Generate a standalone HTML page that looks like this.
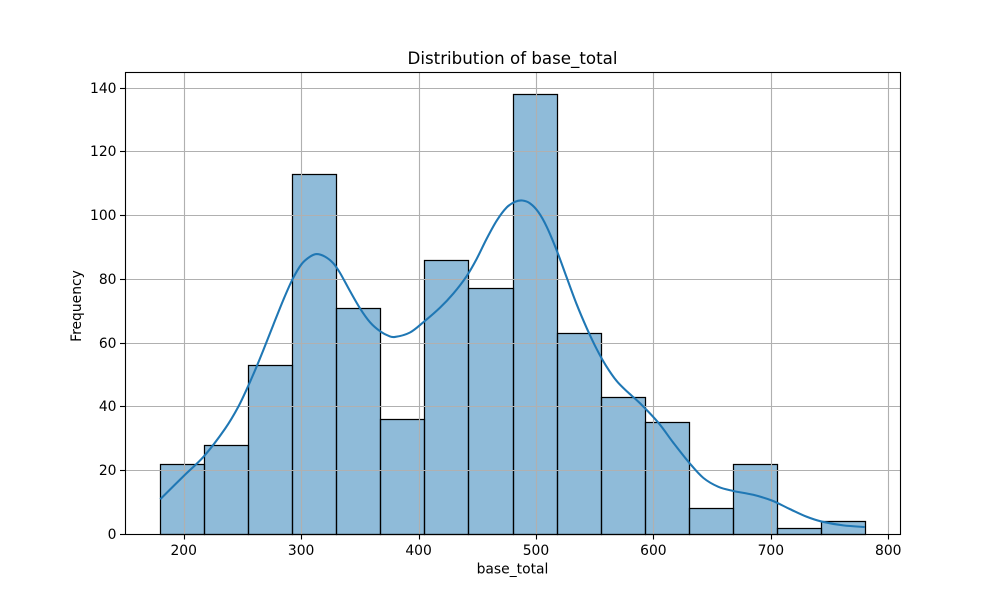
<!DOCTYPE html>
<html>
<head>
<meta charset="utf-8">
<style>
html,body{margin:0;padding:0;background:#fff;}
svg{display:block;}
text{font-family:"DejaVu Sans",sans-serif;fill:#000;}
</style>
</head>
<body>
<svg id="chart" width="1000" height="600" viewBox="0 0 1000 600" xmlns="http://www.w3.org/2000/svg"></svg>
<script>
const binStart = 180;
const binWidth = 37.5;
const counts = [22, 28, 53, 113, 71, 36, 86, 77, 138, 63, 43, 35, 8, 22, 2, 4];
const xTicks = [200, 300, 400, 500, 600, 700, 800];
const yTicks = [0, 20, 40, 60, 80, 100, 120, 140];
const kdeX = [180, 200, 217.5, 235.2, 246.5, 255, 262.2, 267.3, 276.3, 284.8, 292.8, 300.5, 307.6, 313.3, 320.3, 327.4, 333.1, 341.6, 350.1, 358.7, 367.2, 374.2, 379.9, 392.7, 404, 418.3, 429.6, 441, 449.5, 458, 466.6, 475, 482.1, 488.4, 494.9, 502, 509.1, 517.6, 526.2, 534.7, 543.2, 551.7, 559.6, 568.7, 578.4, 588.6, 604.2, 617, 630.6, 642.5, 655.3, 668, 685, 700.8, 716.3, 730.6, 743.3, 761.7, 780];
const kdeY = [10.9, 18.2, 24.5, 33, 39.9, 46.5, 52.6, 57.2, 65.6, 73.4, 80, 84.7, 87, 87.8, 87, 84.9, 81.9, 76.2, 70.8, 66.4, 63.6, 62.2, 61.8, 63.2, 66.4, 71, 75.4, 80.9, 86.3, 92.6, 98.3, 102.4, 104.2, 104.6, 103.7, 101, 96.4, 89, 80.4, 72, 64.6, 58, 52.8, 48, 44.4, 41, 34.9, 28.6, 22.3, 17.6, 14.8, 13.5, 12.3, 10.5, 7.8, 5.4, 3.9, 2.7, 2.2];
const titleText = 'Distribution of base_total';
const xLabelText = 'base_total';
const yLabelText = 'Frequency';

const svg = document.getElementById('chart');
const NS = 'http://www.w3.org/2000/svg';
const plotLeft = 125, plotRight = 900, plotTop = 72, plotBottom = 534;

const binEnd = binStart + binWidth * counts.length;
const xPad = (binEnd - binStart) * 0.05;
const xMin = binStart - xPad, xMax = binEnd + xPad;
const yMax = Math.max(...counts) * 1.05;

function xScale(v) { return plotLeft + (v - xMin) / (xMax - xMin) * (plotRight - plotLeft); }
function yScale(v) { return plotBottom - v / yMax * (plotBottom - plotTop); }
function snap(p) { return Math.round(p) + 0.5; }
function make(tag, attrs, parent) {
  const el = document.createElementNS(NS, tag);
  for (const k in attrs) el.setAttribute(k, attrs[k]);
  (parent || svg).appendChild(el);
  return el;
}

const bg = make('rect', { x: plotLeft, y: plotTop, width: plotRight - plotLeft, height: plotBottom - plotTop, fill: '#fff' });



// bars
const barsGroup = make('g', {});


counts.forEach(function (c, i) {
  const x0 = snap(xScale(binStart + i * binWidth));
  const x1 = snap(xScale(binStart + (i + 1) * binWidth));
  const y0 = snap(yScale(c));
  const y1 = snap(yScale(0));
  const face = make('rect', { x: x0, y: y0, width: x1 - x0, height: y1 - y0, fill: '#1f77b4', 'fill-opacity': 0.5, stroke: '#000', 'stroke-width': 1.25 }, barsGroup);
  
  
});

// grid
const gridGroup = make('g', { stroke: '#b0b0b0', 'stroke-width': 1.11 });


xTicks.forEach(function (t) {
  const x = snap(xScale(t));
  const l = make('line', { x1: x, x2: x, y1: plotTop, y2: plotBottom }, gridGroup);
  
  
});
yTicks.forEach(function (t) {
  const y = snap(yScale(t));
  const l = make('line', { x1: plotLeft, x2: plotRight, y1: y, y2: y }, gridGroup);
  
  
});

// KDE curve (Catmull-Rom through the sampled points)
const pts = kdeX.map(function (x, i) { return [xScale(x), yScale(kdeY[i])]; });
let d = 'M' + pts[0][0].toFixed(2) + ' ' + pts[0][1].toFixed(2);
for (let i = 0; i < pts.length - 1; i++) {
  const p0 = pts[Math.max(i - 1, 0)], p1 = pts[i], p2 = pts[i + 1], p3 = pts[Math.min(i + 2, pts.length - 1)];
  const c1x = p1[0] + (p2[0] - p0[0]) / 6, c1y = p1[1] + (p2[1] - p0[1]) / 6;
  const c2x = p2[0] - (p3[0] - p1[0]) / 6, c2y = p2[1] - (p3[1] - p1[1]) / 6;
  d += 'C' + c1x.toFixed(2) + ' ' + c1y.toFixed(2) + ' ' + c2x.toFixed(2) + ' ' + c2y.toFixed(2) + ' ' + p2[0].toFixed(2) + ' ' + p2[1].toFixed(2);
}
const kde = make('path', { d: d, fill: 'none', stroke: '#1f77b4', 'stroke-width': 2.08, 'stroke-linejoin': 'round' });



// frame
const frame = make('rect', { x: snap(plotLeft), y: snap(plotTop), width: plotRight - plotLeft, height: plotBottom - plotTop, fill: 'none', stroke: '#000', 'stroke-width': 1.11 });



// ticks + labels
xTicks.forEach(function (t) {
  const x = snap(xScale(t));
  const tick = make('line', { x1: x, x2: x, y1: plotBottom, y2: plotBottom + 5.5, stroke: '#000', 'stroke-width': 1.11 });
  
  
  const lab = make('text', { x: xScale(t), y: 555, 'text-anchor': 'middle', 'font-size': 13.89 });
  lab.textContent = String(t);
  
  
});
yTicks.forEach(function (t) {
  const y = snap(yScale(t));
  const tick = make('line', { x1: plotLeft - 5, x2: plotLeft, y1: y, y2: y, stroke: '#000', 'stroke-width': 1.11 });
  
  
  const lab = make('text', { x: 116.5, y: y + 4.5, 'text-anchor': 'end', 'font-size': 13.89 });
  lab.textContent = String(t);
  
  
});

const title = make('text', { x: 512.5, y: 64, 'text-anchor': 'middle', 'font-size': 16.67 });
title.textContent = titleText;



const xLabel = make('text', { x: 512.5, y: 573.5, 'text-anchor': 'middle', 'font-size': 13.89 });
xLabel.textContent = xLabelText;



const yLabel = make('text', { x: 81, y: 306, 'text-anchor': 'middle', 'font-size': 13.89, transform: 'rotate(-90 81 306)' });
yLabel.textContent = yLabelText;


</script>
</body>
</html>
